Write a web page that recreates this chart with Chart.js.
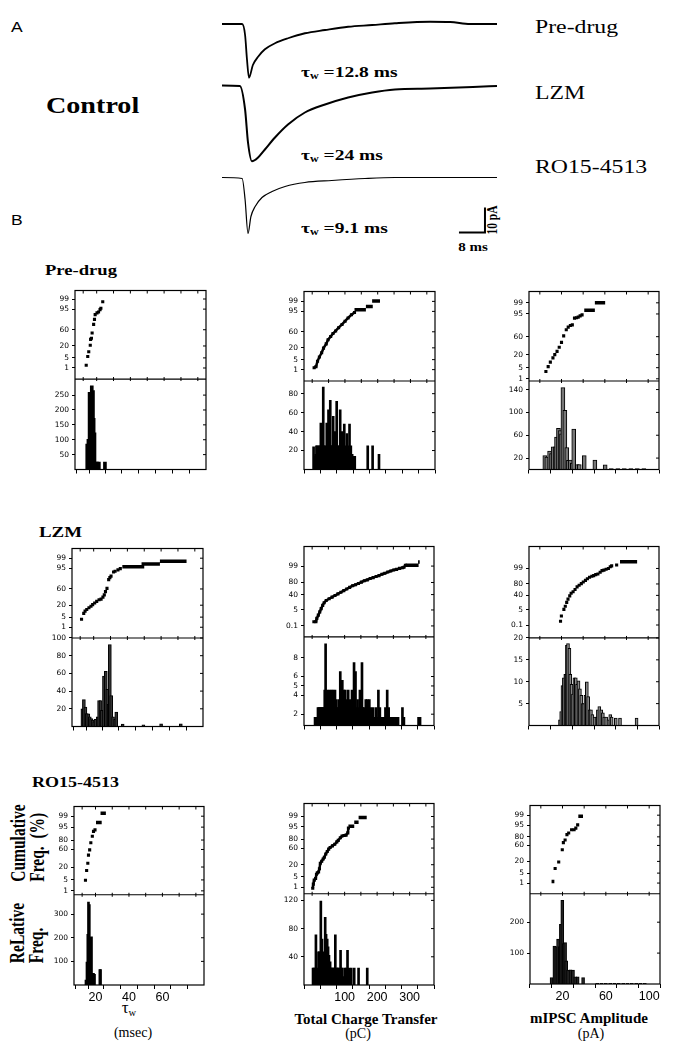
<!DOCTYPE html>
<html>
<head>
<meta charset="utf-8">
<title>mIPSC decay, charge transfer and amplitude</title>
<script src="https://cdn.jsdelivr.net/npm/chart.js@4.4.1/dist/chart.umd.min.js"></script>
<style>
  html, body { margin: 0; padding: 0; background: #fff; }
  body { position: relative; width: 674px; height: 1050px; overflow: hidden; color: #000; font-family: "Liberation Serif", serif; }
  canvas { position: absolute; }
  .t { position: absolute; white-space: pre; line-height: 1; transform-origin: 0 50%; }
  .c { position: absolute; white-space: pre; line-height: 1; }
  sub { font-size: 0.62em; vertical-align: -0.3em; line-height: 0; }
</style>
</head>
<body>

<div class="t" style="left:11px;top:27px;font:14px 'Liberation Sans';transform:translateY(-50%) scaleX(1.25)">A</div>
<div class="t" style="left:11px;top:220px;font:14px 'Liberation Sans';transform:translateY(-50%) scaleX(1.25)">B</div>
<div class="t" style="left:46px;top:106px;font:bold 22.5px 'Liberation Serif';transform:translateY(-50%) scaleX(1.25)">Control</div>

<div class="t" style="left:535px;top:27px;font:19px 'Liberation Serif';transform:translateY(-50%) scaleX(1.25)">Pre-drug</div>
<div class="t" style="left:535px;top:93px;font:19px 'Liberation Serif';transform:translateY(-50%) scaleX(1.25)">LZM</div>
<div class="t" style="left:535px;top:167px;font:19px 'Liberation Serif';transform:translateY(-50%) scaleX(1.25)">RO15-4513</div>

<div class="t" style="left:301px;top:72px;font:bold 15px 'Liberation Serif';transform:translateY(-50%) scaleX(1.3)">τ<sub>w</sub> =12.8 ms</div>
<div class="t" style="left:301px;top:155px;font:bold 15px 'Liberation Serif';transform:translateY(-50%) scaleX(1.3)">τ<sub>w</sub> =24 ms</div>
<div class="t" style="left:301px;top:228px;font:bold 15px 'Liberation Serif';transform:translateY(-50%) scaleX(1.3)">τ<sub>w</sub> =9.1 ms</div>

<div class="c" style="left:492px;top:220px;font:bold 11.5px 'Liberation Serif';transform:translate(-50%,-50%) scaleX(1.3) rotate(-90deg)">10 pA</div>
<div class="c" style="left:473px;top:247px;font:bold 12px 'Liberation Serif';transform:translate(-50%,-50%) scaleX(1.25)">8 ms</div>

<div class="t" style="left:45px;top:270px;font:bold 15px 'Liberation Serif';transform:translateY(-50%) scaleX(1.24)">Pre-drug</div>
<div class="t" style="left:39px;top:532px;font:bold 15px 'Liberation Serif';transform:translateY(-50%) scaleX(1.26)">LZM</div>
<div class="t" style="left:32px;top:782px;font:bold 15px 'Liberation Serif';transform:translateY(-50%) scaleX(1.2)">RO15-4513</div>

<div class="c" style="left:28px;top:843px;font:bold 15.5px 'Liberation Serif';line-height:14.6px;text-align:left;transform:translate(-50%,-50%) scaleX(1.3) rotate(-90deg)">Cumulative
Freq.  (%)</div>
<div class="c" style="left:27px;top:933px;font:bold 15.5px 'Liberation Serif';line-height:14.6px;text-align:left;transform:translate(-50%,-50%) scaleX(1.3) rotate(-90deg)">ReLative
Freq.</div>

<div class="c" style="left:129px;top:1008px;font:17px 'Liberation Serif';transform:translate(-50%,-50%)">τ<sub>w</sub></div>
<div class="c" style="left:133px;top:1033px;font:14px 'Liberation Serif';transform:translate(-50%,-50%)">(msec)</div>
<div class="c" style="left:366px;top:1019px;font:bold 15px 'Liberation Serif';transform:translate(-50%,-50%)">Total Charge Transfer</div>
<div class="c" style="left:358px;top:1034px;font:14px 'Liberation Serif';transform:translate(-50%,-50%)">(pC)</div>
<div class="c" style="left:589px;top:1018px;font:bold 15px 'Liberation Serif';transform:translate(-50%,-50%)">mIPSC Amplitude</div>
<div class="c" style="left:591px;top:1034px;font:14px 'Liberation Serif';transform:translate(-50%,-50%)">(pA)</div>

<script>
// ---------- panel A: averaged mIPSC traces (time in ms, current in pA) ----------
var preTraceT = [0, 6.2, 7.1, 7.7, 8.3, 9.5, 11.1, 13.2, 16.3, 20.3, 25.5, 31.7, 38.8, 46.2, 53.2, 64, 70.2, 76.3, 84.6];
var preTraceI = [0, 0, -4.4, -14.4, -21.5, -16.4, -13.1, -10.1, -7.7, -5.7, -3.7, -2.4, -1.1, -0.4, 0.3, 0.9, 0.8, 0, 0];
var lzmTraceT = [0, 5.5, 7.1, 8, 9.2, 11.1, 13.2, 16.3, 20.3, 25.5, 31.7, 38.8, 46.2, 53.2, 64, 77.2, 84.6];
var lzmTraceI = [0.2, 0, -9.4, -22.6, -30.1, -28.6, -25.4, -20.6, -15.4, -10.6, -7.4, -4.6, -2.6, -1.4, -1, -0.4, 0];
var roTraceT = [0, 6.2, 7.1, 8, 8.9, 10.2, 12.3, 15.4, 19.4, 25.5, 33.8, 44, 53.2, 84.6];
var roTraceI = [0.2, -0.2, -8.6, -22.2, -15.4, -11.4, -7.8, -5.4, -3.4, -1.8, -1, -0.2, 0.2, 0.2];
var scaleBarT0 = 72.9, scaleBarI0 = -21.8, scaleBarMs = 8, scaleBarPa = 10;

// ---------- panel B: tick labels ----------
var cumTicksA = [1, 5, 20, 60, 95, 99];
var cumTicksB = [0.1, 5, 40, 80, 99];
var cumTicksC = [1, 5, 20, 60, 80, 95, 99];
var tauTickLabels = [20, 40, 60];
var qtTickLabels = [100, 200, 300];
var ampTickLabels = [20, 60, 100];

// ---------- Pre-drug ----------
var preTauCumX = [13.8, 14.7, 15.3, 16.2, 16.4, 16.9, 17.3, 18.2, 18.7, 19.1, 20.2, 21.1, 22, 22.5, 23.6];
var preTauCumP = [1.6, 6, 11, 21.5, 34.5, 37.6, 51.3, 73.2, 82.9, 89.9, 91.8, 92.7, 94.6, 95.6, 98.4];
var preTauRuns = [];
var preTauBinX = [14.4, 15.1, 15.8, 16.4, 17.1, 17.8, 18.2, 18.7, 19.3, 20.2, 21.3, 24.9];
var preTauCount = [85, 101, 259, 254, 281, 265, 172, 123, 25, 25, 25, 25];
var preTauHistTicks = [50, 100, 150, 200, 250];

var preQtCumX = [5.9, 11.6, 16.3, 22, 28.9, 34.6, 42.8, 48.5, 56.5, 63.5, 71.6, 80.7, 91.1, 100.4, 109.6, 120, 129.2];
var preQtCumP = [1.4, 1.7, 4, 7.2, 12, 19.4, 28.3, 38.7, 47.4, 55.3, 62.2, 70.3, 77.4, 83.5, 88.4, 92.2, 94.2];
var preQtRuns = [[129.2, 164, 96], [164, 185, 97.6], [183, 207, 99.05]];
var preQtBinX = [4.3, 7.5, 10.5, 13, 15.8, 18.5, 21.2, 24, 26.5, 30, 33.8, 36.5, 39.1, 42, 44.5, 47, 49.8, 52.5, 55.2, 57.5, 59.8, 62, 64.1, 66.7, 69.4, 72, 74.8, 77.5, 80.1, 82.8, 85.5, 88, 90.9, 93.5, 96, 98, 100.5, 103, 106, 110, 114, 118, 122, 127, 130, 169.6, 184.5, 204];
var preQtCount = [24, 14, 16, 25, 25, 14, 25, 25, 49, 25, 87, 25, 25, 14, 49, 25, 63, 25, 73, 25, 25, 25, 56, 25, 40, 25, 72, 25, 25, 14, 63, 25, 40, 16, 25, 48, 25, 14, 38, 25, 48, 25, 16, 14, 14, 25, 25, 16];
var preQtHistTicks = [20, 40, 60, 80];

var preAmpCumX = [5.6, 7.7, 9.7, 12.1, 13.8, 15.9, 17.9, 20, 22, 24.4, 26.2, 28.2, 30, 32, 33.8, 35.4, 37.2, 39];
var preAmpCumP = [3, 5.7, 9.6, 14.8, 19.8, 25.8, 34.8, 46.2, 61.9, 75.1, 79.9, 82.6, 83.6, 91.8, 92.1, 92.7, 93.7, 94.4];
var preAmpRuns = [[41, 50.8, 96.9], [50.8, 60.3, 99]];
var preAmpBinX = [4.6, 6.4, 9, 10.8, 12.3, 14.1, 15.4, 17.2, 18.7, 20, 21.3, 23.1, 24.9, 26.4, 28.2, 30, 31.3, 34.6, 36.4, 41, 50.8, 60.3, 66, 72, 78, 84, 90, 96];
var preAmpCount = [24.4, 21.6, 32.3, 28, 39.7, 39.7, 56.7, 72, 68, 62.4, 143.5, 103.8, 38.6, 15.9, 16.5, 11.3, 70.9, 8.5, 8.5, 24.4, 16.5, 8, 1.5, 1.5, 1.5, 1.5, 1.5, 1.5];
var preAmpHistTicks = [20, 60, 100, 140];

// ---------- LZM ----------
var lzmTauCumX = [12.8, 14.1, 14.9, 15.9, 17.2, 18.4, 19.4, 20.6, 21.8, 23.2, 24.4, 25.5, 26.3, 27, 27.9, 28.9, 29.6, 30.3, 31.8, 32.7, 34.4, 35.8];
var lzmTauCumP = [3.7, 8.2, 10.8, 12.9, 15.5, 18.1, 21.2, 24.5, 28, 31.8, 33.4, 38.4, 44.2, 52.9, 61.6, 81.2, 84.5, 86.9, 91.9, 92.6, 93.8, 94.8];
var lzmTauRuns = [[37, 50, 96], [48.4, 59.3, 97.4], [59.3, 75.1, 98.3]];
var lzmTauBinX = [13.3, 14.2, 15.1, 15.9, 16.8, 17.7, 18.5, 19.4, 20.3, 21.1, 22.4, 23.2, 24.1, 24.9, 26.1, 27.2, 28.1, 28.9, 29.6, 30.4, 31.5, 32.7, 33.4, 37.2, 49.5, 60, 71.7];
var lzmTauCount = [20, 30.4, 21.9, 14.5, 14.4, 10.8, 9, 7.2, 5.3, 8, 10.8, 29.3, 29.3, 18.2, 57, 62.4, 42.1, 25, 92.6, 34.8, 10.8, 8, 16.4, 2.8, 2, 3, 3];
var lzmTauHistTicks = [20, 40, 60, 80, 100];

var lzmQtCumX = [5.4, 11.7, 14.4, 19, 23.5, 27.9, 32.5, 37, 43.3, 52.3, 61.4, 70.4, 79.4, 88.5, 97.4, 106.4, 115.5, 124.5, 133.5, 142.6, 151.6, 160.6, 169.7, 178.7, 187.7, 196.8, 205.7, 214.8, 223.8, 232.8, 241.9, 251, 260, 269, 278, 282.6, 287];
var lzmQtCumP = [0.34, 0.34, 0.8, 1.72, 3.44, 6.4, 11, 16.1, 21.7, 26.4, 31.3, 36.8, 42.5, 48.4, 54.2, 60.1, 65.6, 70.9, 73.8, 77.5, 81, 84.1, 86, 88.5, 90.1, 91.6, 92.9, 94.4, 95.3, 96.3, 97, 97.6, 97.9, 98.3, 98.5, 98.7, 99.2];
var lzmQtRuns = [[287, 327.6, 99.2], [326, 331, 99.66]];
var lzmQtBinX = [9, 12.5, 18, 20.7, 23.5, 26.2, 28.9, 31.6, 34.3, 36.5, 38.8, 41.5, 43.8, 46, 49, 52.3, 55.5, 58.6, 61.3, 64.1, 67.2, 70.4, 72.6, 74.9, 78, 81.2, 84, 86.6, 89.7, 92.9, 95.2, 97.5, 99.7, 102, 104.2, 106.5, 108.7, 111, 114.1, 117.3, 120, 122.7, 125.8, 129, 131.2, 133.5, 136.7, 139.9, 143.5, 147.1, 150.2, 153.4, 156, 158.8, 162, 165.1, 167.3, 169.6, 172.8, 176, 178.2, 180.5, 184, 187.7, 190, 192.2, 196.7, 200, 203.9, 208.4, 211.6, 214.8, 219.3, 222.5, 225.6, 228.3, 231, 235.5, 238.7, 241.8, 246, 250.9, 258.1, 264.4, 277.9, 282.4, 327.5, 332.1];
var lzmQtCount = [1.66, 1.66, 2.69, 2.69, 2.69, 2.69, 2.69, 2.69, 2.69, 2.69, 4.57, 9.47, 2.69, 4.57, 3.54, 4.57, 2.69, 4.57, 3.54, 4.57, 2.69, 4.57, 3.54, 2.69, 2.69, 3.54, 2.69, 6.52, 2.69, 5.6, 3.54, 4.57, 2.69, 4.57, 2.69, 3.54, 2.69, 4.57, 2.69, 3.54, 2.69, 4.57, 2.69, 7.49, 2.69, 6.52, 2.69, 3.54, 2.69, 4.57, 2.69, 7.49, 2.69, 2.69, 1.66, 3.54, 2.69, 3.54, 1.66, 3.54, 1.66, 2.69, 1.66, 2.69, 1.66, 1.66, 2.69, 1.66, 4.57, 2.69, 1.66, 1.66, 1.66, 1.66, 2.69, 1.66, 4.57, 2.69, 1.66, 1.66, 1.66, 1.66, 1.66, 1.66, 2.69, 1.66, 1.66, 1.66];
var lzmQtHistTicks = [2, 4, 5, 6, 8];

var lzmAmpCumX = [19.1, 19.9, 22.2, 23.5, 24.8, 26, 27.6, 28.9, 30.7, 32.5, 34.4, 36.3, 38.3, 40.1, 42.1, 43.9, 45.9, 48, 49.7, 51.6, 53.6, 55.7, 57.4, 59.2, 61.2, 63.3, 65, 66.3, 70.9];
var lzmAmpCumP = [0.31, 1.3, 5.5, 9.8, 17.9, 27.1, 38.2, 48, 53.9, 62.2, 71.2, 76.4, 81, 84.8, 88.2, 91, 93.2, 94.3, 95, 95.9, 96.4, 97.5, 98.3, 98.5, 98.8, 99, 99.35, 99.5, 99.6];
var lzmAmpRuns = [[74, 89.8, 99.85]];
var lzmAmpBinX = [18.6, 19.7, 20.9, 22.2, 23.5, 24.2, 25, 26, 27.3, 28.1, 29.3, 30.6, 31.9, 33.2, 34.4, 35.7, 37, 38.3, 39.5, 40.8, 42.1, 43.4, 44.6, 45.9, 47.2, 48.5, 50.5, 52.3, 53.6, 54.9, 56.7, 58.2, 59.4, 61.2, 63.3, 65, 66.3, 70.1, 74, 89.3];
var lzmAmpCount = [1.3, 3.2, 9.1, 10.9, 11.7, 11.7, 18.3, 18.7, 17.6, 11.7, 9.4, 7.2, 10.9, 10.9, 9.4, 10.2, 8.4, 6.9, 5, 5, 6.9, 10, 6.6, 3.6, 3.6, 2.5, 1.9, 1.9, 3.6, 4.3, 3.6, 2.9, 1.9, 1.9, 1.3, 2.5, 1.9, 1.7, 1.7, 1.7];
var lzmAmpHistTicks = [5, 10, 15, 20];

// ---------- RO15-4513 ----------
var roTauCumX = [14, 14.7, 15.4, 15.8, 16.5, 17.2, 18.1, 18.8, 19.7];
var roTauCumP = [4.8, 14.6, 27.2, 46, 58.9, 74.9, 85.9, 91.6, 93];
var roTauRuns = [[20.3, 23.7, 97.3], [23, 26.2, 99.4]];
var roTauBinX = [14.3, 14.9, 15.4, 15.8, 16.3, 16.7, 17.2, 17.6, 18.1, 18.8, 19.4, 22.6, 23];
var roTauCount = [21, 97, 215, 351, 340, 201, 49, 204, 49, 49, 45, 65, 65];
var roTauHistTicks = [100, 200, 300];

var roQtCumX = [1.9, 3.7, 6.4, 10.7, 13.4, 16.1, 19.8, 22.5, 25.2, 29.5, 34, 37.5, 42, 46.6, 50.9, 55.4, 62.6, 69.6, 76, 80.3, 86.8, 92.1, 98.3, 104.4, 109.8, 111.7];
var roQtCumP = [0.84, 1.7, 3.2, 4, 7.1, 8.4, 9.4, 13.4, 22.9, 27, 32.2, 36.1, 44.4, 51.2, 57.1, 61.4, 65.5, 69.2, 74.4, 77.6, 82.4, 85.1, 86, 86.5, 89.5, 94.2];
var roQtRuns = [[111.7, 129.6, 95.4], [129.6, 143, 97.4], [143, 168, 98.8]];
var roQtBinX = [2.8, 5.5, 9, 11.7, 13.5, 16.1, 18, 19.7, 22.3, 24.5, 26.8, 28.5, 30.4, 33.9, 35.5, 37.5, 40.2, 42.9, 44.5, 46.4, 49.1, 51.8, 53.5, 55.4, 58, 60, 62.5, 64.5, 67, 69, 71.4, 73.5, 75.9, 78, 80, 82.1, 85, 87.5, 90, 92, 95, 100, 104.5, 108.9, 113.4, 120.5, 129.5, 142.9, 169.6];
var roQtCount = [24, 24, 24, 71, 12, 24, 12, 47, 47, 24, 119, 24, 65, 47, 24, 24, 96, 72, 24, 65, 54, 42, 24, 33, 24, 24, 24, 12, 24, 24, 71, 24, 24, 12, 24, 24, 12, 49, 24, 24, 12, 24, 24, 49, 24, 24, 24, 24, 24];
var roQtHistTicks = [40, 80, 120];

var roAmpCumX = [13.2, 16.5, 19.8, 20.8, 22.4, 24.1, 25.7, 28.4, 30.7, 32.3, 34];
var roAmpCumP = [9.2, 18.9, 48.4, 67.2, 73.3, 84, 86.6, 90.8, 90.8, 92.5, 95.2];
var roAmpRuns = [[9.9, 12.5, 1.35], [34.6, 38.9, 98.8]];
var roAmpBinX = [9.9, 12.5, 14.2, 15.9, 17.5, 18.5, 19.8, 21.1, 22.4, 23.4, 25.1, 27.4, 29.7, 31.7, 34, 39, 52, 56, 60, 64, 68, 72, 76, 80, 84, 88, 92, 96];
var roAmpCount = [21, 123, 121, 145, 121, 193, 271, 131, 134, 75, 45, 46, 45, 23.5, 23.5, 21, 2, 2, 2, 2, 2, 2, 2, 2, 2, 2, 2, 2];
var roAmpHistTicks = [100, 200];

var tauRange = [12, 80], qtRange = [0, 350], ampRange = [0, 100];

// ============================================================
var AXW = 26, PADT = 4, PADR = 14;
Chart.defaults.font.family = "'DejaVu Sans', sans-serif";
Chart.defaults.color = '#000';

// inverse of the normal CDF (probability axis)
function probit(p) {
    var a = [-3.969683028665376e+01, 2.209460984245205e+02, -2.759285104469687e+02, 1.383577518672690e+02, -3.066479806614716e+01, 2.506628277459239e+00];
    var b = [-5.447609879822406e+01, 1.615858368580409e+02, -1.556989798598866e+02, 6.680131188771972e+01, -1.328068155288572e+01];
    var c = [-7.784894002430293e-03, -3.223964580411365e-01, -2.400758277161838e+00, -2.549732539343734e+00, 4.374664141464968e+00, 2.938163982698783e+00];
    var d = [7.784695709041462e-03, 3.224671290700398e-01, 2.445134137142996e+00, 3.754408661907416e+00];
    var q, r;
    if (p < 0.02425) {
        q = Math.sqrt(-2 * Math.log(p));
        return (((((c[0]*q+c[1])*q+c[2])*q+c[3])*q+c[4])*q+c[5]) / ((((d[0]*q+d[1])*q+d[2])*q+d[3])*q+1);
    }
    if (p <= 1 - 0.02425) {
        q = p - 0.5; r = q * q;
        return (((((a[0]*r+a[1])*r+a[2])*r+a[3])*r+a[4])*r+a[5])*q / (((((b[0]*r+b[1])*r+b[2])*r+b[3])*r+b[4])*r+1);
    }
    q = Math.sqrt(-2 * Math.log(1 - p));
    return -(((((c[0]*q+c[1])*q+c[2])*q+c[3])*q+c[4])*q+c[5]) / ((((d[0]*q+d[1])*q+d[2])*q+d[3])*q+1);
}

function addCanvas(left, top, w, h) {
    var cv = document.createElement('canvas');
    cv.width = w; cv.height = h;
    cv.style.left = left + 'px'; cv.style.top = top + 'px';
    document.body.appendChild(cv);
    return cv;
}

// box, divider and the little inward ticks on the right/top
var framePlugin = {
    id: 'frame',
    afterDraw: function(chart) {
        var a = chart.chartArea, ctx = chart.ctx;
        var yc = chart.scales.yc, yh = chart.scales.yh, x = chart.scales.x;
        ctx.save();
        ctx.strokeStyle = '#000';
        ctx.lineWidth = 1.2;
        ctx.strokeRect(a.left, a.top, a.right - a.left, a.bottom - a.top);
        ctx.beginPath(); ctx.moveTo(a.left, yc.bottom); ctx.lineTo(a.right, yc.bottom); ctx.stroke();
        ctx.lineWidth = 1;
        [yc, yh].forEach(function(s) {
            s.ticks.forEach(function(t) {
                var y = s.getPixelForValue(t.value);
                ctx.beginPath(); ctx.moveTo(a.right - 3, y); ctx.lineTo(a.right, y); ctx.stroke();
            });
        });
        x.ticks.forEach(function(t) {
            var px = x.getPixelForValue(t.value);
            ctx.beginPath(); ctx.moveTo(px, a.top); ctx.lineTo(px, a.top + 3); ctx.stroke();
            ctx.beginPath(); ctx.moveTo(px, yc.bottom - 2); ctx.lineTo(px, yc.bottom + 2); ctx.stroke();
        });
        ctx.restore();
    }
};

function makePanel(p) {
    var L = Math.round(p.box.l), R = Math.round(p.box.r), T = Math.round(p.box.t);
    var D = Math.round(p.box.d), B = Math.round(p.box.b);
    var xH = p.showX ? 22 : 6;
    var cv = addCanvas(L - AXW, T - PADT, AXW + (R - L) + PADR, PADT + (B - T) + xH);

    var xTickVals = [p.xr[0]];
    for (var v = Math.ceil((p.xr[0] + 0.001) / p.xStep) * p.xStep; v <= p.xr[1] + 0.001; v += p.xStep) xTickVals.push(v);

    var pts = p.cumX.map(function(x, i) { return { x: x, y: probit(p.cumP[i] / 100) }; });
    var runs = [];
    p.runs.forEach(function(r) {
        var z = probit(r[2] / 100);
        runs.push({ x: r[0], y: z }, { x: r[1], y: z }, { x: r[1], y: null });
    });
    var bars = p.binX.map(function(x, i) { return { x: x, y: p.count[i] }; });

    var tickFont = { family: "'DejaVu Sans', sans-serif", size: 7.5 };
    var yGrid = { display: true, drawOnChartArea: false, drawTicks: true, tickLength: 3, color: '#000', lineWidth: 1 };

    new Chart(cv, {
        type: 'scatter',
        data: {
            datasets: [
                { type: 'bar', data: bars, yAxisID: 'yh', backgroundColor: p.barFill, borderColor: '#000',
                  borderWidth: p.barBorder, barThickness: p.barW, grouped: false },
                { data: pts, yAxisID: 'yc', pointStyle: 'rect', pointRadius: 2.2, pointBackgroundColor: '#000',
                  pointBorderWidth: 0, showLine: p.joined, borderColor: '#000', borderWidth: 2.5 },
                { type: 'line', data: runs, yAxisID: 'yc', borderColor: '#000', borderWidth: 3.5,
                  pointRadius: 0, spanGaps: false, borderCapStyle: 'butt' }
            ]
        },
        options: {
            responsive: false, animation: false,
            layout: { padding: { top: PADT, right: PADR, left: 0, bottom: 0 }, autoPadding: false },
            plugins: { legend: { display: false }, tooltip: { enabled: false } },
            scales: {
                x: {
                    type: 'linear', min: p.xr[0], max: p.xr[1],
                    afterFit: function(s) { s.height = xH; },
                    afterBuildTicks: function(s) { s.ticks = xTickVals.map(function(v) { return { value: v }; }); },
                    ticks: { display: p.showX, autoSkip: false, maxRotation: 0, padding: 1,
                             font: { family: "'Liberation Sans', sans-serif", size: 12.5 },
                             callback: function(v) { return p.xLabels.indexOf(v) >= 0 ? String(v) : ''; } },
                    grid: { display: true, drawOnChartArea: false, tickLength: 4, color: '#000' },
                    border: { display: false }
                },
                yh: {
                    type: 'linear', position: 'left', stack: 'panel', stackWeight: B - D,
                    min: p.histMin, max: p.histMax,
                    afterFit: function(s) { s.width = AXW; },
                    afterBuildTicks: function(s) { s.ticks = p.histTicks.map(function(v) { return { value: v }; }); },
                    ticks: { autoSkip: false, padding: 3, font: tickFont,
                             callback: function(v, i) { return String(p.histTicks[i]); } },
                    grid: yGrid, border: { display: false }
                },
                yc: {
                    type: 'linear', position: 'left', stack: 'panel', stackWeight: D - T,
                    min: p.cumZ[0], max: p.cumZ[1],
                    afterFit: function(s) { s.width = AXW; },
                    afterBuildTicks: function(s) { s.ticks = p.cumTicks.map(function(v) { return { value: probit(v / 100) }; }); },
                    ticks: { autoSkip: false, padding: 3, font: tickFont,
                             callback: function(v, i) { return String(p.cumTicks[i]); } },
                    grid: yGrid, border: { display: false }
                }
            }
        },
        plugins: [framePlugin]
    });
}

function makeTrace(t, cur, top, lineW, extra) {
    var cv = addCanvas(222, top, 275, 90);
    var sets = [{
        data: t.map(function(x, i) { return { x: x, y: cur[i] }; }),
        borderColor: '#000', borderWidth: lineW, pointRadius: 0, cubicInterpolationMode: 'monotone', fill: false
    }];
    if (extra) sets.push(extra);
    new Chart(cv, {
        type: 'line',
        data: { datasets: sets },
        options: {
            responsive: false, animation: false,
            layout: { padding: 0, autoPadding: false },
            plugins: { legend: { display: false }, tooltip: { enabled: false } },
            scales: {
                x: { type: 'linear', min: 0, max: 84.6, display: false },
                y: { type: 'linear', min: -32, max: 4, display: false }
            }
        }
    });
}

// ---- panel A ----
makeTrace(preTraceT, preTraceI, 14, 1.8);
makeTrace(lzmTraceT, lzmTraceI, 76, 2);
makeTrace(roTraceT, roTraceI, 168, 1.2, {
    data: [
        { x: scaleBarT0, y: scaleBarI0 },
        { x: scaleBarT0 + scaleBarMs, y: scaleBarI0 },
        { x: scaleBarT0 + scaleBarMs, y: scaleBarI0 + scaleBarPa }
    ],
    borderColor: '#000', borderWidth: 2, pointRadius: 0, borderJoinStyle: 'miter', borderCapStyle: 'butt'
});

// ---- panel B ----
var panels = [
    { box: { l: 75, r: 206, t: 287, d: 378, b: 471 }, xr: tauRange, xStep: 10, xLabels: tauTickLabels, showX: false,
      cumX: preTauCumX, cumP: preTauCumP, runs: preTauRuns, cumZ: [-3.07, 2.9], cumTicks: cumTicksA,
      binX: preTauBinX, count: preTauCount, histMin: 0, histMax: 304, histTicks: preTauHistTicks,
      joined: false, barW: 3, barFill: '#000', barBorder: 0 },
    { box: { l: 304, r: 435, t: 288, d: 380, b: 471 }, xr: qtRange, xStep: 50, xLabels: qtTickLabels, showX: false,
      cumX: preQtCumX, cumP: preQtCumP, runs: preQtRuns, cumZ: [-3.1, 3.0], cumTicks: cumTicksA,
      binX: preQtBinX, count: preQtCount, histMin: 0, histMax: 93.4, histTicks: preQtHistTicks,
      joined: true, barW: 2, barFill: '#000', barBorder: 0 },
    { box: { l: 529, r: 659, t: 288, d: 380, b: 471 }, xr: ampRange, xStep: 20, xLabels: ampTickLabels, showX: false,
      cumX: preAmpCumX, cumP: preAmpCumP, runs: preAmpRuns, cumZ: [-2.46, 3.02], cumTicks: cumTicksA,
      binX: preAmpBinX, count: preAmpCount, histMin: 0, histMax: 155, histTicks: preAmpHistTicks,
      joined: false, barW: 4, barFill: '#777', barBorder: 1 },

    { box: { l: 72, r: 203, t: 545, d: 637, b: 728 }, xr: tauRange, xStep: 10, xLabels: tauTickLabels, showX: false,
      cumX: lzmTauCumX, cumP: lzmTauCumP, runs: lzmTauRuns, cumZ: [-3.05, 2.98], cumTicks: cumTicksA,
      binX: lzmTauBinX, count: lzmTauCount, histMin: 0, histMax: 100, histTicks: lzmTauHistTicks,
      joined: false, barW: 3, barFill: '#333', barBorder: 1 },
    { box: { l: 304, r: 434, t: 543, d: 636, b: 727 }, xr: qtRange, xStep: 50, xLabels: qtTickLabels, showX: false,
      cumX: lzmQtCumX, cumP: lzmQtCumP, runs: lzmQtRuns, cumZ: [-4.09, 4.1], cumTicks: cumTicksB,
      binX: lzmQtBinX, count: lzmQtCount, histMin: 0.8, histMax: 10.2, histTicks: lzmQtHistTicks,
      joined: true, barW: 2, barFill: '#000', barBorder: 0 },
    { box: { l: 529, r: 659, t: 543, d: 637, b: 727 }, xr: ampRange, xStep: 20, xLabels: ampTickLabels, showX: false,
      cumX: lzmAmpCumX, cumP: lzmAmpCumP, runs: lzmAmpRuns, cumZ: [-4.33, 4.43], cumTicks: cumTicksB,
      binX: lzmAmpBinX, count: lzmAmpCount, histMin: 0, histMax: 20, histTicks: lzmAmpHistTicks,
      joined: false, barW: 3, barFill: '#888', barBorder: 1 },

    { box: { l: 74, r: 204, t: 803, d: 893, b: 985 }, xr: tauRange, xStep: 10, xLabels: tauTickLabels, showX: true,
      cumX: roTauCumX, cumP: roTauCumP, runs: roTauRuns, cumZ: [-2.57, 2.93], cumTicks: cumTicksC,
      binX: roTauBinX, count: roTauCount, histMin: 0, histMax: 382, histTicks: roTauHistTicks,
      joined: false, barW: 2, barFill: '#000', barBorder: 0 },
    { box: { l: 304, r: 434, t: 800, d: 892, b: 985 }, xr: qtRange, xStep: 50, xLabels: qtTickLabels, showX: true,
      cumX: roQtCumX, cumP: roQtCumP, runs: roQtRuns, cumZ: [-2.75, 3.18], cumTicks: cumTicksC,
      binX: roQtBinX, count: roQtCount, histMin: 0, histMax: 129.4, histTicks: roQtHistTicks,
      joined: true, barW: 2, barFill: '#000', barBorder: 0 },
    { box: { l: 530, r: 660, t: 802, d: 892, b: 984 }, xr: ampRange, xStep: 20, xLabels: ampTickLabels, showX: true,
      cumX: roAmpCumX, cumP: roAmpCumP, runs: roAmpRuns, cumZ: [-3.06, 2.99], cumTicks: cumTicksC,
      binX: roAmpBinX, count: roAmpCount, histMin: 0, histMax: 292, histTicks: roAmpHistTicks,
      joined: false, barW: 3, barFill: '#222', barBorder: 1 }
];
panels.forEach(makePanel);
</script>
</body>
</html>
